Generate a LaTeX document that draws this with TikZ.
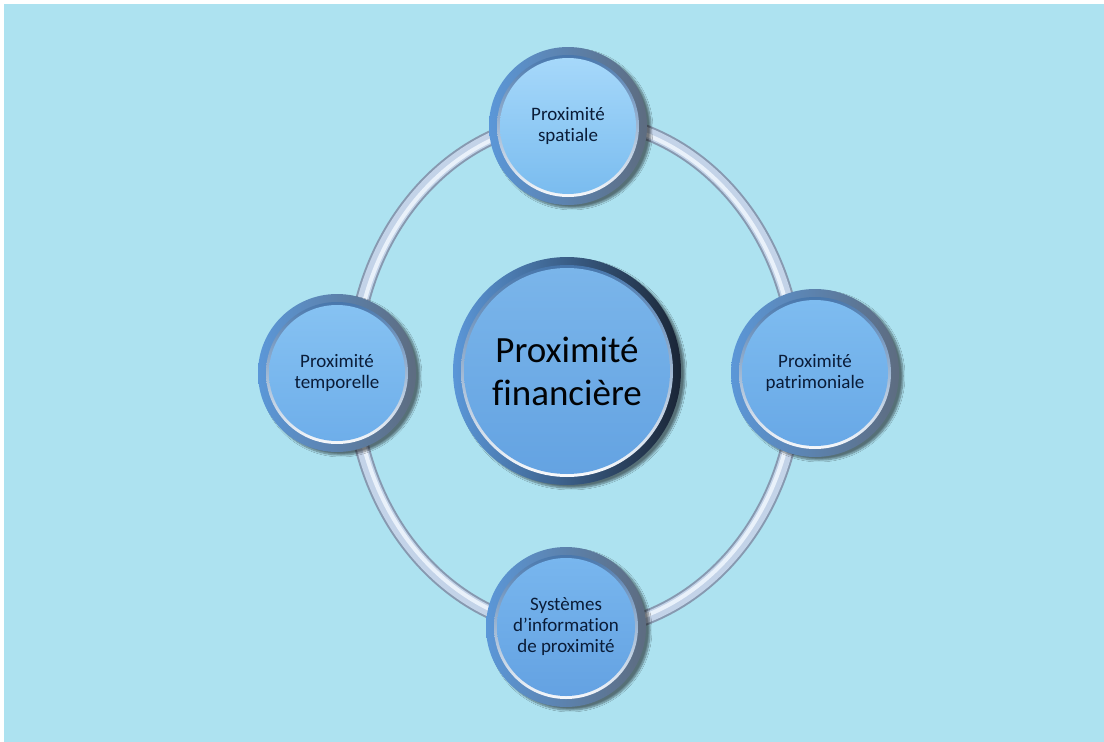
\documentclass[tikz,border=0pt]{standalone}
\usepackage{fontspec}
\setmainfont{Carlito}[Ligatures={NoCommon}]
\usetikzlibrary{shadows.blur}
\definecolor{bg}{HTML}{ADE2F0}
\definecolor{navy}{HTML}{0A1C38}
\definecolor{rimA}{HTML}{5B97D8}
\definecolor{rimB}{HTML}{4677B0}
\definecolor{rimC}{HTML}{1A2536}
\definecolor{rimS}{HTML}{5D6C80}
\definecolor{ringout}{HTML}{8799B0}
\definecolor{ringmid}{HTML}{C3D3E8}
\definecolor{ringin}{HTML}{E9F1FA}
\definecolor{hiTop}{HTML}{3F70A8}
\definecolor{cTop}{HTML}{7AB5EA}\definecolor{cBot}{HTML}{64A3E2}
\definecolor{tTop}{HTML}{A6D8FA}\definecolor{tBot}{HTML}{7ABCEF}
\definecolor{lTop}{HTML}{86C2F2}\definecolor{lBot}{HTML}{6EAEEA}
\definecolor{rTop}{HTML}{7EBCF0}\definecolor{rBot}{HTML}{68A8E6}
\definecolor{bTop}{HTML}{78B6EE}\definecolor{bBot}{HTML}{64A2E2}
\tikzset{
  bubble/.style n args={4}{circle, minimum size=#1pt, inner sep=0pt, align=center,
    text=navy,
    blur shadow={shadow xshift=4pt, shadow yshift=-3pt, shadow blur steps=8, shadow opacity=50},
    shading=axis, shading angle=-60, left color=rimA, middle color=rimB, right color=#4,
    path picture={
      \shade[top color=hiTop, bottom color=white] (path picture bounding box.center) circle[radius={(#1/2-8)*1pt}];
      \shade[top color=#2, bottom color=#3] (path picture bounding box.center) circle[radius={(#1/2-11)*1pt}];
    }},
  small/.style={font=\fontsize{19}{21}\selectfont},
  big/.style={font=\fontsize{37}{43}\selectfont, text=black!90!navy},
  ringline/.style={line width=#1pt}
}
\begin{document}
\begin{tikzpicture}[x=1pt,y=-1pt]
\useasboundingbox (0,0) rectangle (1104,742);
\fill[white] (0,0) rectangle (1104,742);
\fill[bg] (4,4) rectangle (1104,742);
% ring
\coordinate (rc) at (575,375);
\draw[ringout, ringline=15] (rc) ellipse [x radius=222, y radius=256];
\draw[ringmid, ringline=11] (rc) ellipse [x radius=222, y radius=256];
\draw[ringin, ringline=4] (rc) ellipse [x radius=220, y radius=254];
% nodes
\node[bubble={228}{cTop}{cBot}{rimC}, big] (c) at (567,371) {Proximité\\financière};
\node[bubble={158}{tTop}{tBot}{rimS}, small] (t) at (568,126) {Proximité\\spatiale};
\node[bubble={158}{lTop}{lBot}{rimS}, small] (l) at (337,373) {Proximité\\temporelle};
\node[bubble={168}{rTop}{rBot}{rimS}, small] (r) at (815,373) {Proximité\\patrimoniale};
\node[bubble={160}{bTop}{bBot}{rimS}, small] (b) at (566,627) {Systèmes\\d’information\\de proximité};
\end{tikzpicture}
\end{document}
